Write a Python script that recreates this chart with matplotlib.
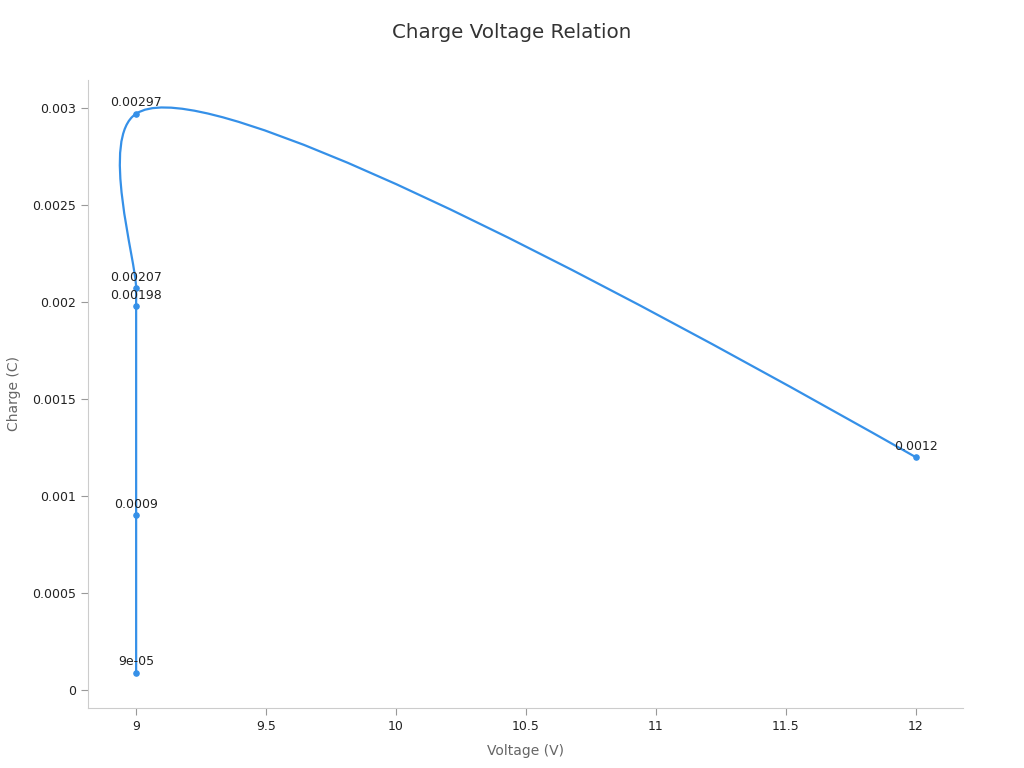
import numpy as np
import matplotlib
matplotlib.use("Agg")
import matplotlib.pyplot as plt
from matplotlib.path import Path
from matplotlib.patches import PathPatch
from matplotlib.ticker import FuncFormatter

voltage = [9, 9, 9, 9, 9, 12]
charge = [0.00009, 0.0009, 0.00198, 0.00207, 0.00297, 0.0012]
labels = ["9e-05", "0.0009", "0.00198", "0.00207", "0.00297", "0.0012"]

line_color = "#3590e8"


def tangent(prev, this, nxt, smooth=1.0):
    # centripetal catmull-rom control points (pixel space)
    d1 = prev - this
    d2 = nxt - this
    d1a = np.hypot(*d1) ** 0.5
    d2a = np.hypot(*d2) ** 0.5
    num = (d2a * d2a * d1 - d1a * d1a * d2) * smooth
    den1 = 3 * d2a * (d1a + d2a)
    den2 = 3 * d1a * (d1a + d2a)
    return this + num / den1, this - num / den2


fig = plt.figure(figsize=(10.24, 7.68), dpi=100)
ax = fig.add_axes([0.086, 0.078, 0.854, 0.818])
ax.set_xlim(8.815, 12.18)
ax.set_ylim(-0.0000928, 0.003144)

pts = ax.transData.transform(np.column_stack([voltage, charge]))
n = len(pts)
tans = [tangent(pts[i - 1], pts[i], pts[i + 1]) for i in range(1, n - 1)]
verts = [pts[0], tans[0][0], pts[1]]
codes = [Path.MOVETO, Path.CURVE3, Path.CURVE3]
for i in range(2, n - 1):
    verts += [tans[i - 2][1], tans[i - 1][0], pts[i]]
    codes += [Path.CURVE4] * 3
verts += [tans[n - 3][1], pts[n - 1]]
codes += [Path.CURVE3] * 2
verts = ax.transData.inverted().transform(np.array(verts))
ax.add_patch(PathPatch(Path(verts, codes), fill=False, edgecolor=line_color, lw=1.6))
ax.scatter(voltage, charge, s=14, color=line_color, zorder=3)

for v, q, t in zip(voltage, charge, labels):
    ax.annotate(t, (v, q), xytext=(0, 3), textcoords="offset points",
                ha="center", va="bottom", fontsize=9, color="#222222")

ax.set_xticks([9, 9.5, 10, 10.5, 11, 11.5, 12])
ax.set_yticks([0, 0.0005, 0.001, 0.0015, 0.002, 0.0025, 0.003])
fmt = FuncFormatter(lambda val, pos: "%g" % val)
ax.xaxis.set_major_formatter(fmt)
ax.yaxis.set_major_formatter(fmt)
ax.tick_params(labelsize=9, colors="#999999", labelcolor="#222222", length=5)

for s in ["top", "right"]:
    ax.spines[s].set_visible(False)
for s in ["left", "bottom"]:
    ax.spines[s].set_color("#cccccc")

ax.set_xlabel("Voltage (V)", fontsize=10, color="#666666", labelpad=8)
ax.set_ylabel("Charge (C)", fontsize=10, color="#666666", labelpad=8)
fig.suptitle("Charge Voltage Relation", fontsize=14.3, color="#333333", y=0.97)

fig.savefig("out.png", dpi=100)
